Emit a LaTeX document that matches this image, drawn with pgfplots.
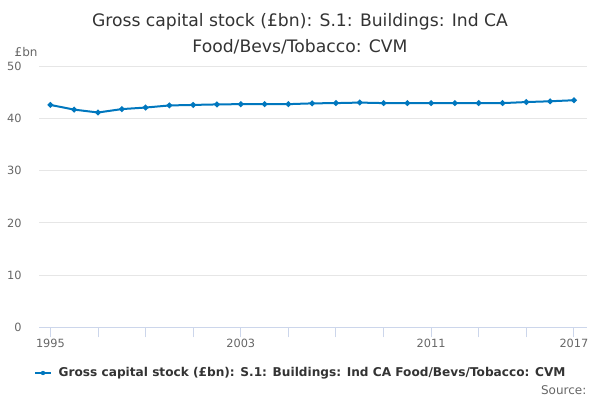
\documentclass[border=0pt]{standalone}
\usepackage{pgfplots}
\pgfplotsset{compat=1.18}
\usepackage{fontspec}
\setmainfont{DejaVu Sans}
\definecolor{linec}{RGB}{0,119,190}
\definecolor{gridc}{RGB}{230,230,230}
\definecolor{axc}{RGB}{204,214,235}
\definecolor{tickc}{RGB}{102,102,102}
\definecolor{titc}{RGB}{51,51,51}
\begin{document}
\begin{tikzpicture}[x=0.75pt,y=0.75pt]
\useasboundingbox (0,0) rectangle (600,400);
\begin{axis}[
  at={(39pt*0.75,72.7pt*0.75)}, anchor=south west,
  scale only axis, width=411pt, height=195.75pt,
  xmin=1994.52, xmax=2017.55, ymin=0, ymax=50,
  ytick={0,10,20,30,40,50},
  xtick={1995,1997,...,2017},
  xticklabels={1995,,,,2003,,,,2011,,,2017},
  ymajorgrids, major grid style={gridc, line width=0.75pt},
  axis x line*=bottom, axis y line*=left,
  y axis line style={draw=none},
  x axis line style={axc, line width=0.75pt, -},
  xtick style={axc, line width=0.75pt},
  tick align=outside, major tick length=7.5pt,
  ytick style={draw=none},
  ticklabel style={font=\fontsize{8.5}{10}\selectfont, text=tickc},
  xticklabel style={yshift=2.5pt},
  yticklabel style={xshift=-2pt},
  /pgf/number format/assume math mode=true,
  /pgf/number format/1000 sep={},
  clip=false,
]
\addplot[linec, line width=1.5pt, mark=*, mark size=1.3pt] coordinates {
(1995,42.6) (1996,41.7) (1997,41.15) (1998,41.8) (1999,42.1) (2000,42.5)
(2001,42.6) (2002,42.7) (2003,42.75) (2004,42.75) (2005,42.75) (2006,42.9)
(2007,42.95) (2008,43.05) (2009,42.95) (2010,42.95) (2011,42.95) (2012,42.95)
(2013,42.95) (2014,42.95) (2015,43.15) (2016,43.3) (2017,43.5)
};
\end{axis}
\node[font=\fontsize{12.9}{19.5}\selectfont, text=titc, align=center] at (300,366) {Gross capital stock (£bn): S.1: Buildings: Ind CA\\Food/Bevs/Tobacco: CVM};
\node[font=\fontsize{9}{10}\selectfont, text=tickc, anchor=west] at (10,348) {£bn};
\draw[linec, line width=1.5pt] (35,27) -- (51,27);
\fill[linec] (43,27) circle (2.2);
\node[font=\bfseries\fontsize{9.1}{11}\selectfont, text=titc, anchor=west] at (54,27) {Gross capital stock (£bn): S.1: Buildings: Ind CA Food/Bevs/Tobacco: CVM};
\node[font=\fontsize{9}{10}\selectfont, text=tickc, anchor=east] at (591,10) {Source:};
\end{tikzpicture}
\end{document}
